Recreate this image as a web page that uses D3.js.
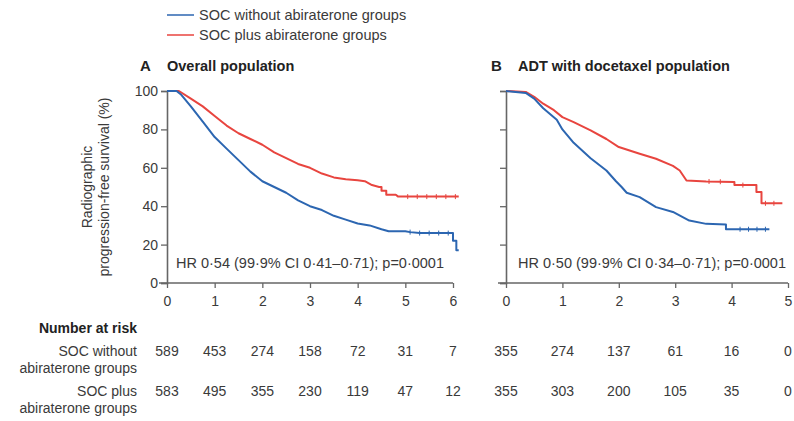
<!DOCTYPE html>
<html>
<head>
<meta charset="utf-8">
<script src="https://cdn.jsdelivr.net/npm/d3@7"></script>
<style>
  body { margin: 0; background: #fff; }
  svg { display: block; font-family: "Liberation Sans", Arial, sans-serif; }
</style>
</head>
<body>
<svg id="chart" width="794" height="421"></svg>
<script>
// survival curves: [years, %]
// many small KM steps are drawn as straight runs; the visible steps in the tails are kept
const socA = [[0,100],[0.2,100],[0.3,98],[0.5,92],[0.75,84],[1,76],[1.25,70],[1.5,64],[1.75,58],[2,53],
  [2.25,50],[2.5,47],[2.75,43],[3,40],[3.25,38],[3.5,35],[3.75,33],[4,31],[4.25,30],[4.5,28],[4.65,27],
  [5,27],[5.1,26.5],[5.3,26],[6.0,26],[6.0,22],[6.07,22],[6.07,17],[6.12,17]];
const abiA = [[0,100],[0.25,100],[0.5,96],[0.75,92],[1,87],[1.25,82],[1.5,78],[1.75,75],[2,72],[2.25,68],
  [2.5,65],[2.75,62],[3,60],[3.25,57],[3.5,55],[3.75,54],[4,53.5],[4.15,53],[4.3,51],[4.45,50],
  [4.5,50],[4.5,48],[4.6,48],[4.6,46],[4.8,46],[4.85,45],[6.12,45]];
const socB = [[0,100],[0.35,99],[0.5,96],[0.66,91],[0.9,85],[1,80],[1.2,73],[1.5,65],[1.78,58.6],
  [1.95,53],[2.05,50],[2.14,47],[2.37,44.7],[2.66,39.5],[2.96,37],[3.25,32.5],[3.55,30.8],[3.9,30.5],
  [3.9,28],[4.67,28]];
const abiB = [[0,100],[0.35,99.5],[0.5,97],[0.66,93.4],[0.85,90],[1,86.4],[1.2,83.8],[1.5,79.5],[1.78,75],
  [2,70.8],[2.37,67.3],[2.66,64.7],[2.96,61],[3.08,58.6],[3.2,53.4],[3.55,52.9],[4.05,52.6],[4.05,51],
  [4.44,51],[4.44,47.4],[4.53,47.4],[4.53,41.5],[4.9,41.5]];
// censoring ticks (years)
const censA = { soc: [5.1,5.3,5.5,5.7,5.9], abi: [5.05,5.25,5.45,5.65,5.85,6.05] };
const censB = { soc: [4.15,4.3,4.45,4.6], abi: [3.6,3.8,4.2,4.6,4.75] };

const xTicksA = [0,1,2,3,4,5,6];
const xTicksB = [0,1,2,3,4,5];
const yTicks = [0,20,40,60,80,100];
const riskSocA = [589,453,274,158,72,31,7];
const riskAbiA = [583,495,355,230,119,47,12];
const riskSocB = [355,274,137,61,16,0];
const riskAbiB = [355,303,200,105,35,0];
const seriesNames = ["SOC without abiraterone groups", "SOC plus abiraterone groups"];
const hrTexts = ["HR 0·54 (99·9% CI 0·41–0·71); p=0·0001", "HR 0·50 (99·9% CI 0·34–0·71); p=0·0001"];

const BLUE = "#2c66b1", RED = "#e8453f", AX = "#666", TXT = "#3a3a3a";
const svg = d3.select("#chart");

const y = d3.scaleLinear().domain([0, 100]).range([283, 91]);

function valueAt(pts, t) {
  let v = pts[0][1];
  for (let i = 1; i < pts.length; i++) {
    const a = pts[i - 1], b = pts[i];
    if (t >= a[0] && t <= b[0]) {
      v = b[0] === a[0] ? b[1] : a[1] + (b[1] - a[1]) * (t - a[0]) / (b[0] - a[0]);
    }
  }
  return v;
}

function panel(opts) {
  const x = d3.scaleLinear().domain(opts.domain).range(opts.range);
  const g = svg.append("g");

  // axes
  const xa = g.append("g").attr("transform", `translate(0,${y(0)})`)
    .call(d3.axisBottom(x).tickValues(opts.xTicks).tickFormat(d3.format("d")).tickSize(5).tickPadding(8));
  const ya = g.append("g").attr("transform", `translate(${x(0)},0)`)
    .call(d3.axisLeft(y).tickValues(yTicks).tickSize(6).tickPadding(3)
      .tickFormat(opts.yLabels ? d3.format("d") : ""));
  [xa, ya].forEach(a => {
    a.select(".domain").attr("stroke", AX).attr("stroke-width", 1.6);
    a.selectAll(".tick line").attr("stroke", AX).attr("stroke-width", 1.3);
    a.selectAll("text").attr("fill", TXT).style("font-size", "14px");
  });
  // x axis line also reaches back under the y ticks
  xa.select(".domain").attr("d", `M${x(0) - 8},0H${opts.range[1]}`);

  const line = d3.line().x(d => x(d[0])).y(d => y(d[1]));
  [[opts.abi, RED, opts.cens.abi], [opts.soc, BLUE, opts.cens.soc]].forEach(([pts, col, cens]) => {
    g.append("path").datum(pts).attr("d", line)
      .attr("fill", "none").attr("stroke", col).attr("stroke-width", 2)
      .attr("stroke-linejoin", "round");
    g.selectAll(null).data(cens).enter().append("line")
      .attr("x1", d => x(d)).attr("x2", d => x(d))
      .attr("y1", d => y(valueAt(pts, d)) - 2.5).attr("y2", d => y(valueAt(pts, d)) + 2.5)
      .attr("stroke", col).attr("stroke-width", 1);
  });

  g.append("text").attr("x", opts.hrX).attr("y", 268).attr("fill", TXT)
    .style("font-size", "14.5px").text(opts.hr);

  // panel title
  g.append("text").attr("x", opts.titleX).attr("y", 71).attr("fill", "#222")
    .style("font-size", "15px").style("font-weight", "bold").text(opts.letter);
  g.append("text").attr("x", opts.titleX + 27).attr("y", 71).attr("fill", "#222")
    .style("font-size", "14.5px").style("font-weight", "bold").text(opts.title);

  // number at risk
  [[opts.riskSoc, 356], [opts.riskAbi, 396]].forEach(([vals, yy]) => {
    g.selectAll(null).data(vals).enter().append("text")
      .attr("x", (d, i) => x(opts.xTicks[i])).attr("y", yy)
      .attr("text-anchor", "middle").attr("fill", TXT).style("font-size", "14px")
      .text(d => d);
  });
}

panel({ domain: [0, 6], range: [167, 453], xTicks: xTicksA, yLabels: true,
  soc: socA, abi: abiA, cens: censA, hr: hrTexts[0], hrX: 176,
  letter: "A", title: "Overall population", titleX: 140,
  riskSoc: riskSocA, riskAbi: riskAbiA });
panel({ domain: [0, 5], range: [506, 788], xTicks: xTicksB, yLabels: false,
  soc: socB, abi: abiB, cens: censB, hr: hrTexts[1], hrX: 518,
  letter: "B", title: "ADT with docetaxel population", titleX: 491,
  riskSoc: riskSocB, riskAbi: riskAbiB });

// y title
const yt = svg.append("text").attr("transform", "translate(92,187) rotate(-90)")
  .attr("text-anchor", "middle").attr("fill", TXT).style("font-size", "14px");
yt.append("tspan").attr("x", 0).attr("dy", 0).text("Radiographic");
yt.append("tspan").attr("x", 0).attr("dy", 17).text("progression-free survival (%)");

// legend
seriesNames.forEach((name, i) => {
  const ly = 15 + i * 20;
  svg.append("line").attr("x1", 167).attr("x2", 194).attr("y1", ly).attr("y2", ly)
    .attr("stroke", i === 0 ? BLUE : RED).attr("stroke-width", 1.5);
  svg.append("text").attr("x", 199).attr("y", ly + 5).attr("fill", TXT)
    .style("font-size", "14.5px").text(name);
});

// risk table labels
const lab = [["Number at risk", 333, true], ["SOC without", 356], ["abiraterone groups", 373],
  ["SOC plus", 396], ["abiraterone groups", 413]];
lab.forEach(([t, yy, b]) => {
  svg.append("text").attr("x", 137).attr("y", yy).attr("text-anchor", "end")
    .attr("fill", b ? "#222" : TXT).style("font-size", "14px")
    .style("font-weight", b ? "bold" : "normal").text(t);
});
</script>
</body>
</html>
